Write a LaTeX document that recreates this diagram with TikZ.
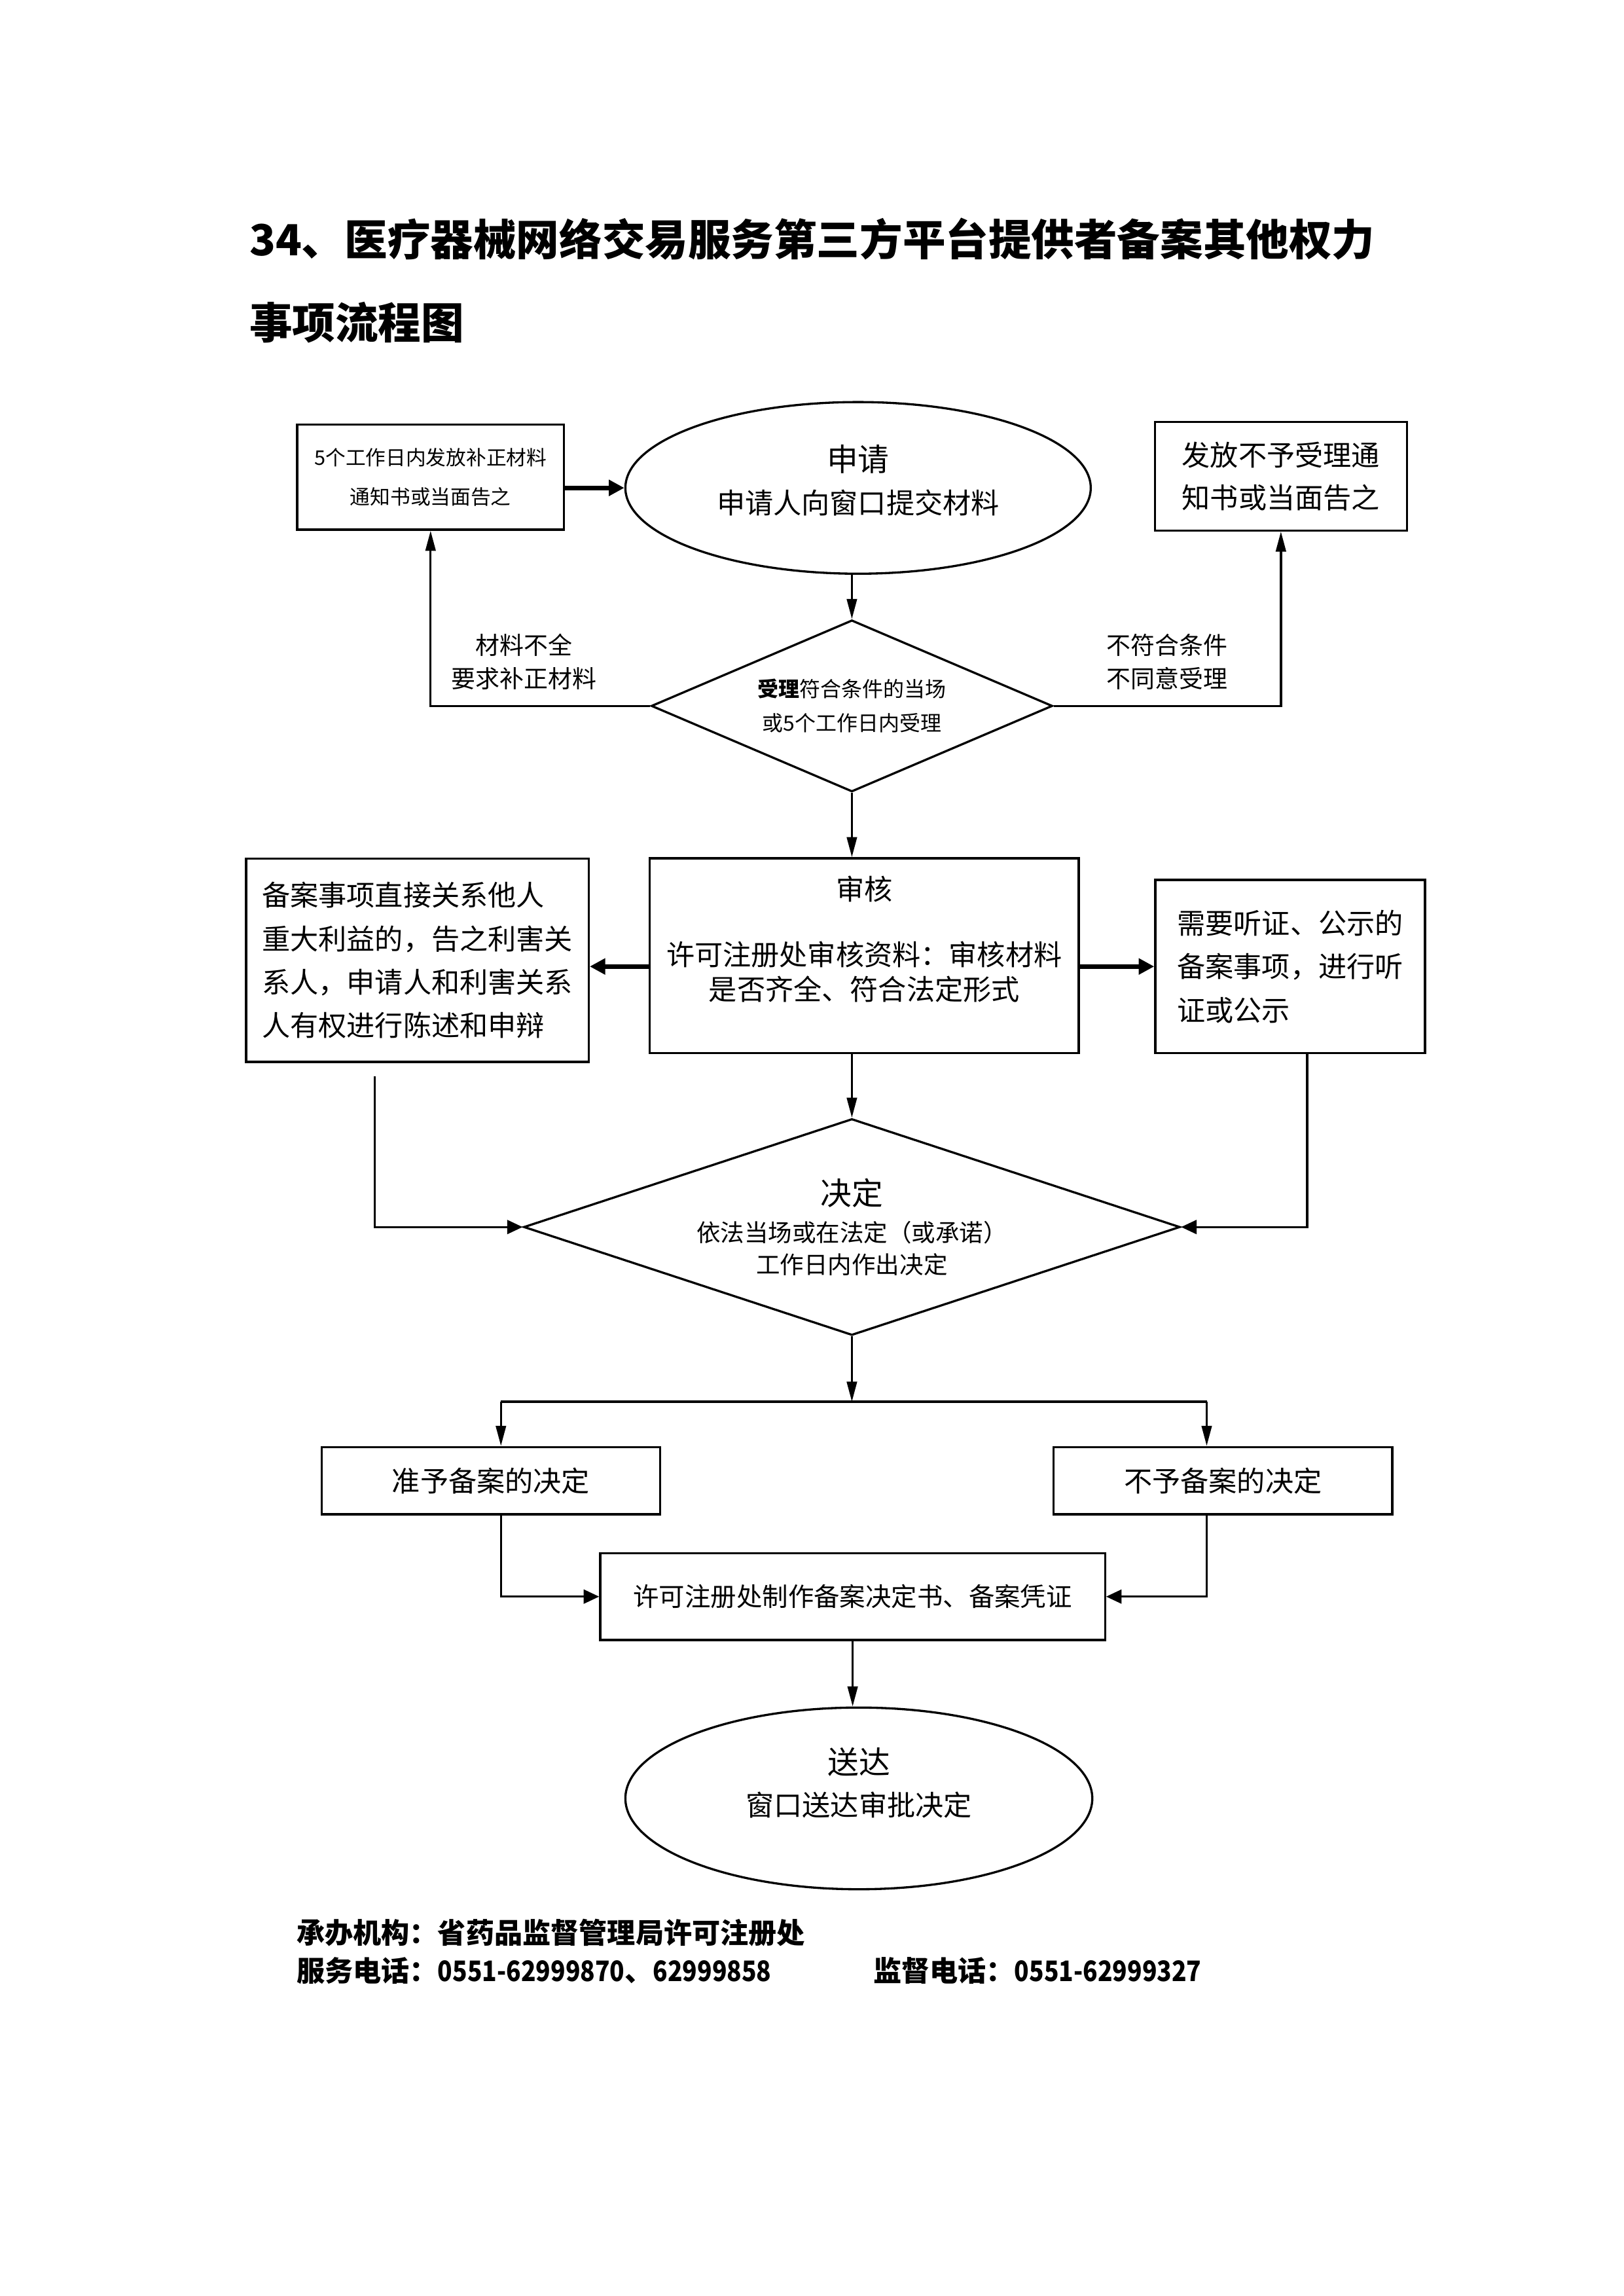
\documentclass[tikz,border=0pt]{standalone}
\usepackage{fontspec}
\setmainfont{Noto Sans CJK SC}
\usetikzlibrary{
  arrows.meta,
  positioning,
  shapes.geometric,
}
\newcommand{\telnum}[1]{\scalebox{0.86}[1]{#1}}

\begin{document}
\begin{tikzpicture}[
  font=\fontsize{10.4}{16}\selectfont,
  every node/.style={align=center, inner sep=0pt},
  box/.style={draw=black, line width=0.8pt},
  oval/.style={draw=black, ellipse, line width=0.8pt},
  decision/.style={draw=black, diamond, line width=0.8pt},
  arrow/.style={-{Triangle[length=2.6mm, width=1.3mm]}, line width=0.8pt},
  harrow/.style={-{Triangle[length=2mm, width=1.8mm]}, line width=0.8pt},
  bigarrow/.style={-{Triangle[length=2mm, width=2mm]}, line width=1.6pt},
  titletext/.style={anchor=west, font=\fontsize{15.8}{20}\selectfont\bfseries},
  foottext/.style={anchor=west, font=\fontsize{10.4}{14}\selectfont\bfseries},
]
\useasboundingbox (0,0) rectangle (21,-29.696);

% title
\node[titletext] (title1) at (3.22,-3.09)
  {34、医疗器械网络交易服务第三方平台提供者备案其他权力};
\node[titletext] (title2) at (3.22,-4.17) {事项流程图};

% application
\node[box, minimum width=3.45cm, minimum height=1.36cm,
      font=\fontsize{7.4}{14.5}\selectfont] (notice) at (5.57,-6.17)
  {5个工作日内发放补正材料\\通知书或当面告之};
\node[oval, minimum width=6.02cm, minimum height=2.22cm] (apply) at (11.10,-6.31) {};
\node[font=\fontsize{10.4}{15.6}\selectfont] (applytxt) at (11.10,-6.21)
  {{\fontsize{11.5}{15.6}\selectfont 申请}\\申请人向窗口提交材料};
\node[box, minimum width=3.26cm, minimum height=1.40cm,
      font=\fontsize{10.4}{15.6}\selectfont] (reject) at (16.57,-6.16)
  {发放不予受理通\\知书或当面告之};

% acceptance
\node[decision, aspect=2.34, minimum width=5.19cm, minimum height=2.22cm,
      font=\fontsize{7.7}{12.4}\selectfont] (accept) at (11.02,-9.13)
  {\textbf{受理}符合条件的当场\\或5个工作日内受理};
\node[font=\fontsize{8.9}{12.4}\selectfont] (lack) at (6.78,-8.56)
  {材料不全\\要求补正材料};
\node[font=\fontsize{8.9}{12.4}\selectfont] (nocond) at (15.10,-8.56)
  {不符合条件\\不同意受理};

% review
\node[box, minimum width=5.55cm, minimum height=2.52cm] (review) at (11.18,-12.36) {};
\node[font=\fontsize{10.4}{12.9}\selectfont] (reviewtxt) at (11.18,-12.15)
  {审核\\[11pt]许可注册处审核资料：审核材料\\是否齐全、符合法定形式};
\node[box, minimum width=4.43cm, minimum height=2.63cm, align=left] (notify) at (5.40,-12.42)
  {备案事项直接关系他人\\重大利益的，告之利害关\\系人，申请人和利害关系\\人有权进行陈述和申辩};
\node[box, minimum width=3.49cm, minimum height=2.24cm, align=left] (hearing) at (16.69,-12.50)
  {需要听证、公示的\\备案事项，进行听\\证或公示};

% decision
\node[decision, aspect=3.03, minimum width=8.49cm, minimum height=2.80cm,
      font=\fontsize{8.8}{11.8}\selectfont] (decide) at (11.02,-15.87)
  {{\fontsize{11.5}{12}\selectfont 决定}\\[1.6pt]依法当场或在法定（或承诺）\\工作日内作出决定};

\node[box, minimum width=4.38cm, minimum height=0.87cm] (grant) at (6.35,-19.15) {准予备案的决定};
\node[box, minimum width=4.38cm, minimum height=0.87cm] (deny) at (15.82,-19.15) {不予备案的决定};
\node[box, minimum width=6.53cm, minimum height=1.12cm,
      font=\fontsize{9.5}{12}\selectfont] (make) at (11.03,-20.65)
  {许可注册处制作备案决定书、备案凭证};

% delivery
\node[oval, minimum width=6.04cm, minimum height=2.35cm] (deliver) at (11.11,-23.26) {};
\node[font=\fontsize{10.4}{15.6}\selectfont] (delivertxt) at (11.11,-23.06)
  {{\fontsize{11.5}{15.6}\selectfont 送达}\\窗口送达审批决定};

% connectors
\draw[bigarrow] (notice.east |- apply.west) -- (apply.west);
\draw[arrow] (accept.north |- apply.south) -- (accept.north);
\draw[arrow] (accept.west) -| (notice.south);
\draw[arrow] (accept.east) -| (reject.south);
\draw[arrow] (accept.south) -- (accept.south |- review.north);
\draw[bigarrow] (review.west |- hearing.west) -- (notify.east |- hearing.west);
\draw[bigarrow] (review.east |- hearing.west) -- (hearing.west);
\draw[arrow] (decide.north |- review.south) -- (decide.north);

\coordinate (notifyout) at (4.85,-13.92);
\coordinate (hearingcol) at (16.91,0);
\draw[harrow] (notifyout) |- (decide.west);
\draw[harrow] (hearing.south -| hearingcol) |- (decide.east);

\coordinate (split) at (11.02,-18.13);
\coordinate (splitL) at (6.48,-18.13);
\coordinate (splitR) at (15.61,-18.13);
\draw[arrow] (decide.south) -- (split);
\draw[line width=0.8pt] (splitL) -- (splitR);
\draw[arrow] (splitL) -- (splitL |- grant.north);
\draw[arrow] (splitR) -- (splitR |- deny.north);
\draw[harrow] (splitL |- grant.south) |- (make.west);
\draw[harrow] (splitR |- deny.south) |- (make.east);
\draw[arrow] (make.south) -- (make.south |- deliver.north);

% footer
\node[foottext] (office) at (3.83,-25.00) {承办机构：省药品监督管理局许可注册处};
\node[foottext] (servicetel) at (3.83,-25.49)
  {服务电话：\telnum{0551-62999870}、\telnum{62999858}};
\node[foottext] (supervisetel) at (11.29,-25.49) {监督电话：\telnum{0551-62999327}};

\end{tikzpicture}
\end{document}
